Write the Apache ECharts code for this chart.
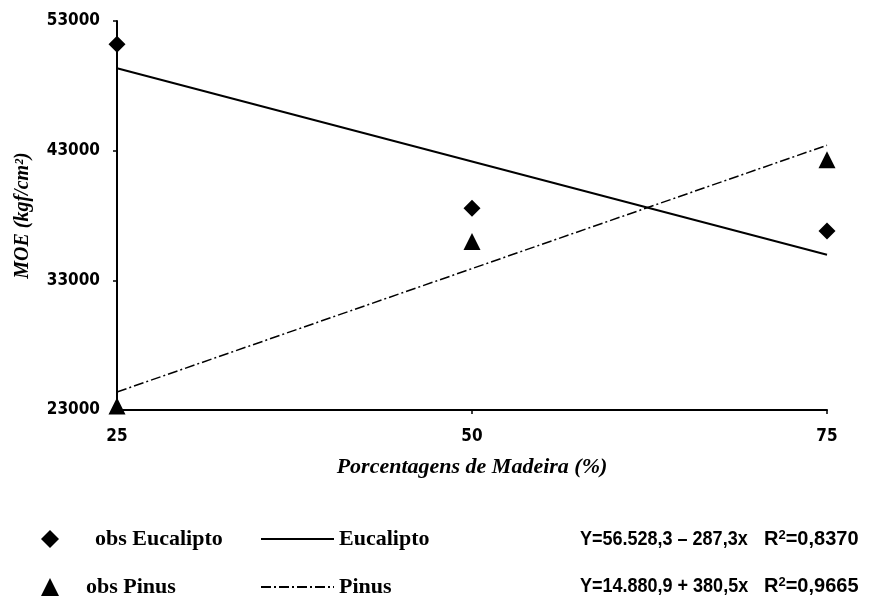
<!DOCTYPE html>
<html>
<head>
<meta charset="utf-8">
<script src="https://cdn.jsdelivr.net/npm/echarts@6/dist/echarts.min.js"></script>
<style>html,body{margin:0;padding:0;background:#fff;}#c{width:893px;height:607px;}</style>
</head>
<body>
<div id="c"></div>
<script>
// Data
var xTicks = [25, 50, 75];
var yTicks = [23000, 33000, 43000, 53000];
var obsEucalipto = [[25, 51200], [50, 38550], [75, 36800]];
var obsPinus = [[25, 23300], [50, 36000], [75, 42300]];
var fitEucalipto = [[25, 49350], [75, 34980]];
var fitPinus = [[25, 24390], [75, 43420]];
var eqEucalipto = 'Y=56.528,3 – 287,3x';
var eqPinus = 'Y=14.880,9 + 380,5x';
var r2Eucalipto = '0,8370';
var r2Pinus = '0,9665';

var chart = echarts.init(document.getElementById('c'), null, {renderer: 'canvas'});
var serifBold = {fontFamily: "'Liberation Serif', 'Times New Roman', serif", fontWeight: 'bold', color: '#000'};
var tickFont = {fontFamily: "'DejaVu Sans Condensed', 'DejaVu Sans', sans-serif", fontWeight: 'bold', fontSize: 17, color: '#000'};
var eqFont = "bold 20px 'Liberation Sans', Arial, sans-serif";
var supFont = "bold 13px 'Liberation Sans', Arial, sans-serif";
function plain(v) { return String(v); }

var option = {
  backgroundColor: '#fff',
  animation: false,
  grid: {left: 117, right: 66, top: 21, bottom: 197},
  xAxis: {
    type: 'value', min: 25, max: 75,
    name: 'Porcentagens de Madeira (%)', nameLocation: 'middle', nameGap: 46,
    nameTextStyle: {fontFamily: "'Liberation Serif', serif", fontWeight: 'bold', fontStyle: 'italic', fontSize: 22, color: '#000'},
    axisLine: {show: true, onZero: false, lineStyle: {color: '#000', width: 2}},
    axisTick: {show: true, inside: false, length: 4, customValues: xTicks, lineStyle: {color: '#000', width: 1.5}},
    axisLabel: Object.assign({margin: 18, customValues: xTicks, formatter: plain}, tickFont),
    splitLine: {show: false}
  },
  yAxis: {
    type: 'value', min: 23000, max: 53000,
    name: 'MOE (kgf/cm²)', nameLocation: 'middle', nameGap: 84, nameRotate: 90,
    nameTextStyle: {fontFamily: "'Liberation Serif', serif", fontWeight: 'bold', fontStyle: 'italic', fontSize: 20, color: '#000'},
    axisLine: {show: true, onZero: false, lineStyle: {color: '#000', width: 2}},
    axisTick: {show: true, inside: false, length: 4, customValues: yTicks, lineStyle: {color: '#000', width: 1.5}},
    axisLabel: Object.assign({margin: 17, customValues: yTicks, formatter: plain}, tickFont),
    splitLine: {show: false}
  },
  legend: [
    {
      orient: 'vertical', left: 36, top: 523, itemWidth: 18, itemHeight: 18, itemGap: 26,
      textStyle: Object.assign({fontSize: 22, lineHeight: 21}, serifBold),
      data: [
        {name: 'obs Eucalipto', textStyle: {padding: [0, 0, 0, 31]}},
        {name: 'obs Pinus', textStyle: {padding: [0, 0, 0, 22]}}
      ]
    },
    {
      orient: 'vertical', left: 255, top: 523, itemWidth: 73, itemHeight: 16, itemGap: 26,
      itemStyle: {opacity: 0},
      textStyle: Object.assign({fontSize: 22, lineHeight: 21}, serifBold),
      data: ['Eucalipto', 'Pinus']
    }
  ],
  graphic: [
    {type: 'text', x: 580, y: 529, scaleX: 0.9, style: {text: eqEucalipto, font: eqFont, fill: '#000'}},
    {type: 'text', x: 580, y: 576, scaleX: 0.9, style: {text: eqPinus, font: eqFont, fill: '#000'}},
    {type: 'text', x: 764, y: 529, style: {text: 'R{s|2}=' + r2Eucalipto, font: eqFont, fill: '#000',
      rich: {s: {font: supFont, verticalAlign: 'top', padding: [0, 0, 8, 0]}}}},
    {type: 'text', x: 764, y: 576, style: {text: 'R{s|2}=' + r2Pinus, font: eqFont, fill: '#000',
      rich: {s: {font: supFont, verticalAlign: 'top', padding: [0, 0, 8, 0]}}}}
  ],
  series: [
    {name: 'obs Eucalipto', type: 'scatter', data: obsEucalipto, symbol: 'diamond', symbolSize: 17, itemStyle: {color: '#000', opacity: 1}, z: 5},
    {name: 'obs Pinus', type: 'scatter', data: obsPinus, symbol: 'triangle', symbolSize: 17, itemStyle: {color: '#000', opacity: 1}, z: 5},
    {name: 'Eucalipto', type: 'line', data: fitEucalipto, symbol: 'none', lineStyle: {color: '#000', width: 2}, itemStyle: {color: '#000'}},
    {name: 'Pinus', type: 'line', data: fitPinus, symbol: 'none', lineStyle: {color: '#000', width: 1.5, type: [10, 3, 2, 3]}, itemStyle: {color: '#000'}}
  ]
};
chart.setOption(option);
</script>
</body>
</html>
